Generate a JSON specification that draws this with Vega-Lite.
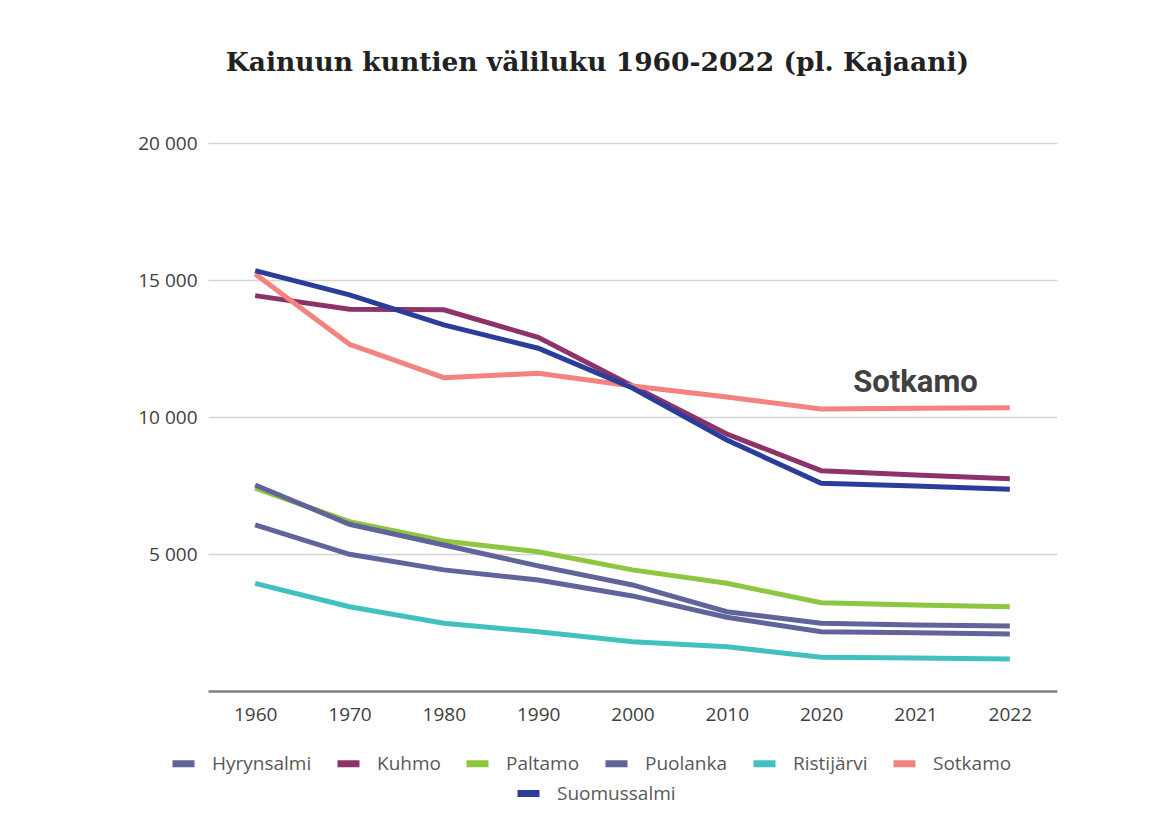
{
  "$schema": "https://vega.github.io/schema/vega-lite/v6.json",
  "width": 849,
  "height": 548,
  "autosize": {"type": "none"},
  "padding": {"left": 208, "top": 143, "right": 103, "bottom": 138},
  "background": "white",
  "title": {
    "text": "Kainuun kuntien väliluku 1960-2022 (pl. Kajaani)",
    "font": "DejaVu Serif",
    "fontSize": 26.5,
    "fontWeight": "bold",
    "color": "#222222",
    "anchor": "middle",
    "frame": "bounds",
    "offset": 58
  },
  "data": {"values": [
    {"kunta": "Hyrynsalmi", "vuosi": "1960", "asukkaat": 6060},
    {"kunta": "Hyrynsalmi", "vuosi": "1970", "asukkaat": 4990},
    {"kunta": "Hyrynsalmi", "vuosi": "1980", "asukkaat": 4420},
    {"kunta": "Hyrynsalmi", "vuosi": "1990", "asukkaat": 4050},
    {"kunta": "Hyrynsalmi", "vuosi": "2000", "asukkaat": 3470},
    {"kunta": "Hyrynsalmi", "vuosi": "2010", "asukkaat": 2690},
    {"kunta": "Hyrynsalmi", "vuosi": "2020", "asukkaat": 2165},
    {"kunta": "Hyrynsalmi", "vuosi": "2021", "asukkaat": 2128},
    {"kunta": "Hyrynsalmi", "vuosi": "2022", "asukkaat": 2080},
    {"kunta": "Kuhmo", "vuosi": "1960", "asukkaat": 14430},
    {"kunta": "Kuhmo", "vuosi": "1970", "asukkaat": 13930},
    {"kunta": "Kuhmo", "vuosi": "1980", "asukkaat": 13910},
    {"kunta": "Kuhmo", "vuosi": "1990", "asukkaat": 12910},
    {"kunta": "Kuhmo", "vuosi": "2000", "asukkaat": 11130},
    {"kunta": "Kuhmo", "vuosi": "2010", "asukkaat": 9380},
    {"kunta": "Kuhmo", "vuosi": "2020", "asukkaat": 8040},
    {"kunta": "Kuhmo", "vuosi": "2021", "asukkaat": 7885},
    {"kunta": "Kuhmo", "vuosi": "2022", "asukkaat": 7750},
    {"kunta": "Paltamo", "vuosi": "1960", "asukkaat": 7400},
    {"kunta": "Paltamo", "vuosi": "1970", "asukkaat": 6180},
    {"kunta": "Paltamo", "vuosi": "1980", "asukkaat": 5475},
    {"kunta": "Paltamo", "vuosi": "1990", "asukkaat": 5085},
    {"kunta": "Paltamo", "vuosi": "2000", "asukkaat": 4420},
    {"kunta": "Paltamo", "vuosi": "2010", "asukkaat": 3930},
    {"kunta": "Paltamo", "vuosi": "2020", "asukkaat": 3225},
    {"kunta": "Paltamo", "vuosi": "2021", "asukkaat": 3140},
    {"kunta": "Paltamo", "vuosi": "2022", "asukkaat": 3077},
    {"kunta": "Puolanka", "vuosi": "1960", "asukkaat": 7520},
    {"kunta": "Puolanka", "vuosi": "1970", "asukkaat": 6085},
    {"kunta": "Puolanka", "vuosi": "1980", "asukkaat": 5330},
    {"kunta": "Puolanka", "vuosi": "1990", "asukkaat": 4565},
    {"kunta": "Puolanka", "vuosi": "2000", "asukkaat": 3870},
    {"kunta": "Puolanka", "vuosi": "2010", "asukkaat": 2895},
    {"kunta": "Puolanka", "vuosi": "2020", "asukkaat": 2470},
    {"kunta": "Puolanka", "vuosi": "2021", "asukkaat": 2410},
    {"kunta": "Puolanka", "vuosi": "2022", "asukkaat": 2373},
    {"kunta": "Ristijärvi", "vuosi": "1960", "asukkaat": 3930},
    {"kunta": "Ristijärvi", "vuosi": "1970", "asukkaat": 3077},
    {"kunta": "Ristijärvi", "vuosi": "1980", "asukkaat": 2470},
    {"kunta": "Ristijärvi", "vuosi": "1990", "asukkaat": 2165},
    {"kunta": "Ristijärvi", "vuosi": "2000", "asukkaat": 1800},
    {"kunta": "Ristijärvi", "vuosi": "2010", "asukkaat": 1617},
    {"kunta": "Ristijärvi", "vuosi": "2020", "asukkaat": 1230},
    {"kunta": "Ristijärvi", "vuosi": "2021", "asukkaat": 1205},
    {"kunta": "Ristijärvi", "vuosi": "2022", "asukkaat": 1168},
    {"kunta": "Sotkamo", "vuosi": "1960", "asukkaat": 15220},
    {"kunta": "Sotkamo", "vuosi": "1970", "asukkaat": 12655},
    {"kunta": "Sotkamo", "vuosi": "1980", "asukkaat": 11435},
    {"kunta": "Sotkamo", "vuosi": "1990", "asukkaat": 11595},
    {"kunta": "Sotkamo", "vuosi": "2000", "asukkaat": 11130},
    {"kunta": "Sotkamo", "vuosi": "2010", "asukkaat": 10730},
    {"kunta": "Sotkamo", "vuosi": "2020", "asukkaat": 10293},
    {"kunta": "Sotkamo", "vuosi": "2021", "asukkaat": 10320},
    {"kunta": "Sotkamo", "vuosi": "2022", "asukkaat": 10340},
    {"kunta": "Suomussalmi", "vuosi": "1960", "asukkaat": 15340},
    {"kunta": "Suomussalmi", "vuosi": "1970", "asukkaat": 14455},
    {"kunta": "Suomussalmi", "vuosi": "1980", "asukkaat": 13360},
    {"kunta": "Suomussalmi", "vuosi": "1990", "asukkaat": 12510},
    {"kunta": "Suomussalmi", "vuosi": "2000", "asukkaat": 11060},
    {"kunta": "Suomussalmi", "vuosi": "2010", "asukkaat": 9160},
    {"kunta": "Suomussalmi", "vuosi": "2020", "asukkaat": 7580},
    {"kunta": "Suomussalmi", "vuosi": "2021", "asukkaat": 7483},
    {"kunta": "Suomussalmi", "vuosi": "2022", "asukkaat": 7362}
  ]},
  "encoding": {
    "x": {
      "field": "vuosi",
      "type": "ordinal",
      "scale": {"type": "point", "padding": 0.5},
      "axis": {
        "title": null,
        "labelAngle": 0,
        "labelFont": "Open Sans",
        "labelFontSize": 19,
        "labelColor": "#404040",
        "labelPadding": 14,
        "ticks": false,
        "grid": false,
        "domainColor": "#808080",
        "domainWidth": 2.5
      }
    },
    "y": {
      "field": "asukkaat",
      "type": "quantitative",
      "scale": {"domain": [0, 20000], "nice": false},
      "axis": {
        "title": null,
        "values": [5000, 10000, 15000, 20000],
        "labelExpr": "replace(format(datum.value, ','), ',', ' ')",
        "labelFont": "Open Sans",
        "labelFontSize": 19,
        "labelColor": "#404040",
        "labelPadding": 11,
        "domain": false,
        "ticks": false,
        "gridColor": "#d4d4d4",
        "gridWidth": 1.5
      }
    }
  },
  "layer": [
    {
      "transform": [{"filter": "datum.kunta !== 'Suomussalmi'"}],
      "mark": {"type": "line", "strokeWidth": 5},
      "encoding": {
        "color": {
          "field": "kunta",
          "type": "nominal",
          "scale": {
            "domain": ["Hyrynsalmi", "Kuhmo", "Paltamo", "Puolanka", "Ristijärvi", "Sotkamo"],
            "range": ["#61649b", "#8c3469", "#8dc63f", "#61649b", "#40c1c0", "#f4827e"]
          },
          "legend": {
            "title": null,
            "orient": "none",
            "legendX": -39,
            "legendY": 606,
            "direction": "horizontal",
            "columns": 6,
            "symbolType": "stroke",
            "symbolStrokeWidth": 7,
            "symbolSize": 484,
            "labelFont": "Open Sans",
            "labelFontSize": 19,
            "labelColor": "#595959",
            "labelOffset": 14,
            "columnPadding": 11
          }
        }
      }
    },
    {
      "transform": [{"filter": "datum.kunta === 'Suomussalmi'"}],
      "mark": {"type": "line", "strokeWidth": 5},
      "encoding": {
        "color": {
          "field": "kunta",
          "type": "nominal",
          "scale": {"domain": ["Suomussalmi"], "range": ["#2a3d9a"]},
          "legend": {
            "title": null,
            "orient": "none",
            "legendX": 306,
            "legendY": 636,
            "direction": "horizontal",
            "symbolType": "stroke",
            "symbolStrokeWidth": 7,
            "symbolSize": 484,
            "labelFont": "Open Sans",
            "labelFontSize": 19,
            "labelColor": "#595959",
            "labelOffset": 14
          }
        }
      }
    },
    {
      "data": {"values": [{"merkki": "Sotkamo", "vuosi": "2021", "asukkaat": 10920}]},
      "mark": {"type": "text", "font": "Roboto", "fontWeight": "bold", "fontSize": 31, "color": "#404040", "baseline": "alphabetic", "align": "center"},
      "encoding": {
        "text": {"field": "merkki", "type": "nominal"}
      }
    }
  ],
  "resolve": {"scale": {"color": "independent"}, "legend": {"color": "independent"}},
  "config": {"view": {"stroke": null}, "font": "Open Sans"}
}
